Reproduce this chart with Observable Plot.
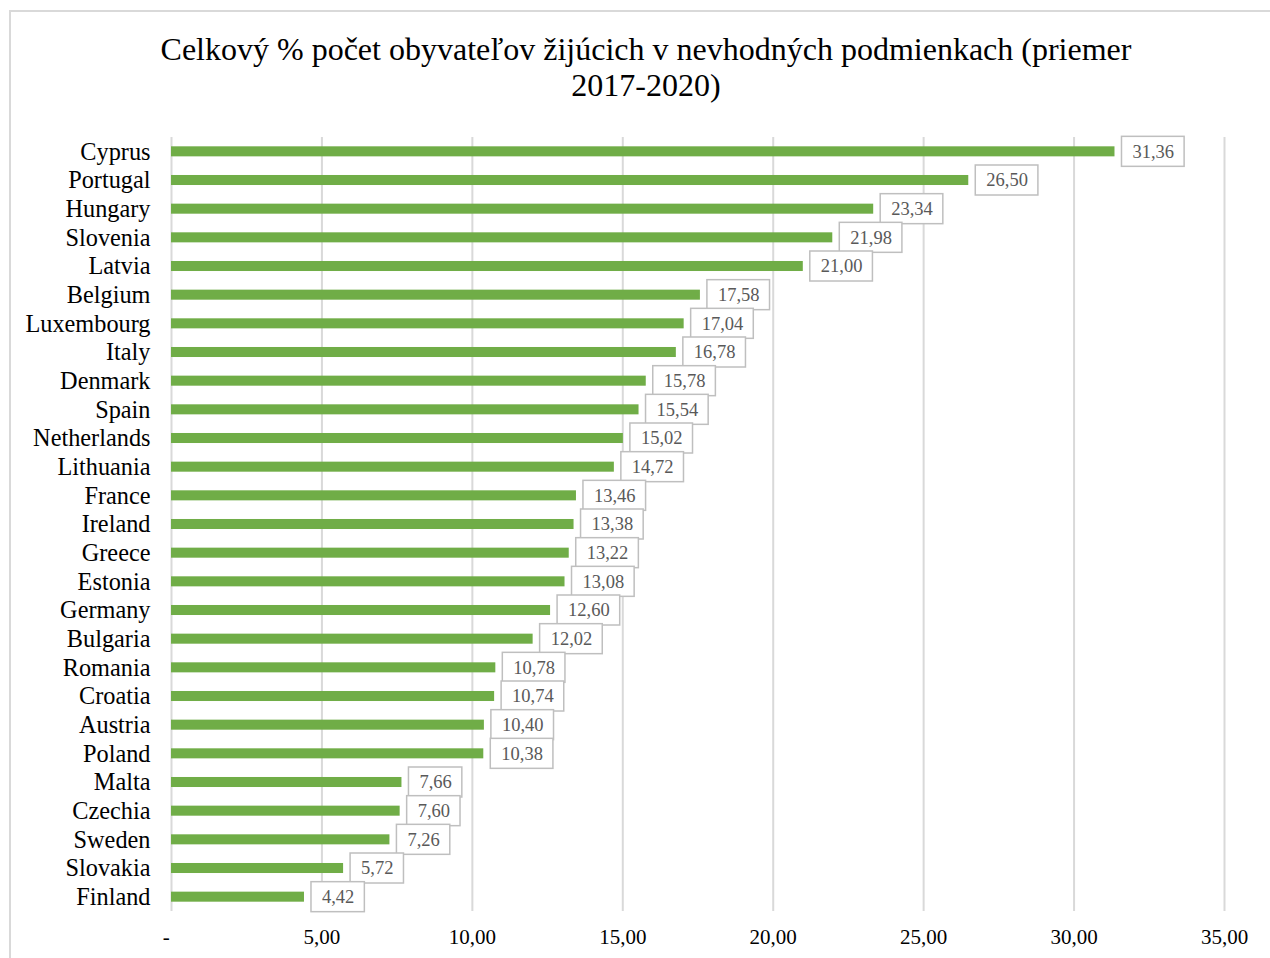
<!DOCTYPE html>
<html><head><meta charset="utf-8">
<script src="https://cdn.jsdelivr.net/npm/d3@7"></script>
<script src="https://cdn.jsdelivr.net/npm/@observablehq/plot@0.6"></script>
<style>
body{margin:0;background:#fff;}
#wrap{position:relative;width:1270px;height:958px;overflow:hidden;font-family:"Liberation Serif","Times New Roman",serif;}
#frame{position:absolute;left:9px;top:10px;width:1300px;height:1000px;border-left:2px solid #d9d9d9;border-top:2px solid #d9d9d9;}
#title{position:absolute;left:9px;width:1274px;top:31px;text-align:center;font-size:32px;line-height:36px;color:#000;}
#chart{position:absolute;left:0;top:0;}
</style></head>
<body><div id="wrap"><div id="frame"></div><div id="chart"></div><div id="title">Celkový % počet obyvateľov žijúcich v nevhodných podmienkach (priemer<br>2017-2020)</div></div>
<script>
const countries = ["Cyprus","Portugal","Hungary","Slovenia","Latvia","Belgium","Luxembourg","Italy","Denmark","Spain","Netherlands","Lithuania","France","Ireland","Greece","Estonia","Germany","Bulgaria","Romania","Croatia","Austria","Poland","Malta","Czechia","Sweden","Slovakia","Finland"];
const values = [31.36,26.50,23.34,21.98,21.00,17.58,17.04,16.78,15.78,15.54,15.02,14.72,13.46,13.38,13.22,13.08,12.60,12.02,10.78,10.74,10.40,10.38,7.66,7.60,7.26,5.72,4.42];
const xTicks = [0,5,10,15,20,25,30,35];

const data = countries.map((c,i)=>({country:c, value:values[i]}));
const fmt = v => v===0 ? "-\u2002" : v.toFixed(2).replace(".", ",");
const labFmt = v => v.toFixed(2).replace(".", ",");
const serif = '"Liberation Serif","Times New Roman",serif';
const labSize = 18.5;

const plot = Plot.plot({
  width:1270, height:958, marginTop:137, marginBottom:47, marginLeft:171, marginRight:46,
  style:{fontFamily:serif, background:"transparent", color:"#000", overflow:"visible"},
  x:{domain:[0,35], label:null},
  y:{domain:countries, paddingInner:0.65, paddingOuter:0.325, round:false, label:null},
  marks:[
    Plot.gridX(xTicks,{stroke:"#d9d9d9", strokeWidth:2, strokeOpacity:1}),
    Plot.barX(data,{x:"value", y:"country", fill:"#70ad47"}),
    Plot.text(data,{x:"value", y:"country", text:d=>labFmt(d.value), dx:17.5, textAnchor:"start", fill:"#595959", fontSize:labSize}),
    Plot.axisX({ticks:xTicks, tickFormat:fmt, tickSize:0, tickPadding:18, fontSize:21, label:null}),
    Plot.axisY({tickSize:0, tickPadding:21, fontSize:24.3, label:null})
  ]
});
document.getElementById("chart").appendChild(plot);

// boxes behind data labels, positioned through the plot's own scales
const sx = plot.scale("x"), sy = plot.scale("y");
const ctx = document.createElement("canvas").getContext("2d");
ctx.font = `${labSize}px "Liberation Serif"`;
const textG = plot.querySelector('g[aria-label="text"]');
const boxG = document.createElementNS("http://www.w3.org/2000/svg","g");
data.forEach(d=>{
  const w = ctx.measureText(labFmt(d.value)).width;
  const cx = sx.apply(d.value);
  const cy = sy.apply(d.country) + sy.bandwidth/2;
  const r = document.createElementNS("http://www.w3.org/2000/svg","rect");
  r.setAttribute("x", cx + 7);
  r.setAttribute("y", cy - 15);
  r.setAttribute("width", w + 21);
  r.setAttribute("height", 30);
  r.setAttribute("fill", "#fff");
  r.setAttribute("stroke", "#bfbfbf");
  r.setAttribute("stroke-width", 1.5);
  boxG.appendChild(r);
});
if (textG) textG.parentNode.insertBefore(boxG, textG); else plot.appendChild(boxG);
</script>
</body></html>
